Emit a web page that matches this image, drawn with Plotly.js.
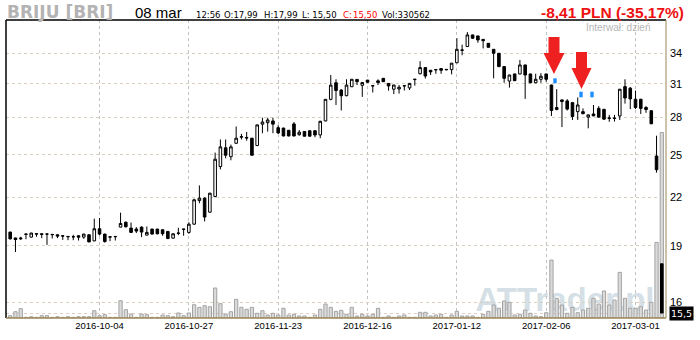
<!DOCTYPE html>
<html>
<head>
<meta charset="utf-8">
<script src="https://cdn.plot.ly/plotly-3.0.1.min.js"></script>
<style>
  html, body { margin: 0; padding: 0; background: #ffffff; }
  #chart { width: 700px; height: 340px; }
</style>
</head>
<body>
<div id="chart"></div>
<script>
// ---------- data ----------
const ticker = 'BRIJU [BRI]';
const sessionDay = '08 mar';
const sessionTime = '12:56';
const intervalLabel = 'Interwał: dzień';
const watermark = 'ATTrader.pl';
const startDate = '2016-09-09';
const endDate = '2017-03-08';
const holidays = ['2016-11-01', '2016-11-11', '2016-12-26', '2017-01-06'];
const tickDates = ['2016-10-04', '2016-10-27', '2016-11-23', '2016-12-16', '2017-01-12', '2017-02-06', '2017-03-01'];
const priceTicks = [16, 19, 22, 25, 28, 31, 34];

const openP = [19.80,19.45,19.40,19.66,19.50,19.68,19.70,19.68,19.64,19.64,
  19.56,19.52,19.52,19.58,19.50,19.64,19.28,20.00,19.68,19.50,
  19.52,20.10,20.40,20.04,19.98,20.10,19.62,19.98,19.98,19.94,
  19.84,19.44,19.72,19.96,19.78,20.28,21.78,21.94,21.03,22.05,
  24.14,25.55,24.87,25.90,26.38,26.36,26.30,25.72,27.44,27.57,
  27.71,27.15,27.12,26.94,27.46,26.58,26.84,26.90,26.90,26.56,
  27.71,29.58,31.10,30.42,29.91,30.73,31.42,30.86,31.35,30.80,
  31.28,31.52,31.04,30.50,30.52,30.80,30.62,31.40,31.96,32.56,
  32.30,32.34,32.46,32.34,32.36,33.04,34.30,34.70,35.94,35.83,
  35.46,35.04,34.41,34.00,32.66,31.26,31.94,31.94,32.82,31.94,
  31.10,31.43,31.94,30.89,28.68,29.53,29.44,29.29,28.50,28.50,
  28.03,28.30,28.78,28.70,27.92,27.96,28.13,30.74,30.60,29.59,
  29.59,28.86,28.58,24.92,17.99];
const highP = [19.82,19.47,19.52,19.70,19.76,19.70,19.72,19.72,19.66,19.66,
  19.58,19.54,19.64,19.62,19.70,19.66,20.62,20.66,19.70,19.52,
  19.54,21.00,20.44,20.38,20.10,20.14,20.14,20.00,20.00,19.96,
  19.86,19.72,20.06,19.98,20.40,21.90,22.80,22.00,22.30,25.18,
  26.20,26.20,25.80,27.25,26.65,26.80,26.32,27.40,27.98,27.98,
  27.98,27.35,27.14,26.96,27.62,26.96,26.86,26.92,26.96,27.72,
  29.60,31.84,31.43,30.50,31.43,31.45,31.45,31.14,31.37,30.83,
  31.43,31.55,31.06,30.90,30.89,30.83,31.06,31.43,33.20,32.60,
  32.32,32.36,32.48,32.42,33.02,35.58,34.90,36.25,35.96,35.85,
  35.48,35.06,34.43,34.02,32.68,31.86,31.96,33.32,32.84,31.96,
  31.96,32.02,31.96,30.92,30.50,29.55,29.60,29.30,29.75,28.78,
  28.25,29.08,28.98,28.72,28.22,28.22,30.52,31.43,30.70,30.37,
  29.62,28.98,28.60,26.50,17.99];
const lowP = [19.36,18.64,19.33,19.38,19.48,19.52,19.44,19.05,19.42,19.44,
  19.34,19.32,19.32,19.30,19.40,19.20,19.26,19.60,19.18,19.26,
  19.30,20.08,20.08,19.74,19.74,19.50,19.60,19.66,19.66,19.58,
  19.38,19.42,19.62,19.58,19.70,20.24,21.60,20.45,21.00,22.00,
  23.93,24.75,24.60,25.85,26.20,26.10,24.96,25.70,26.70,26.83,
  26.70,26.65,26.44,26.44,26.44,26.50,26.44,26.44,26.38,26.30,
  27.68,29.50,29.08,28.60,29.85,30.70,30.89,29.80,31.10,30.20,
  30.89,31.18,30.37,30.05,30.10,30.38,30.43,30.83,31.90,31.50,
  31.84,31.96,31.96,32.30,31.90,33.00,33.80,34.66,35.50,35.10,
  34.50,34.60,31.52,32.60,31.10,30.65,31.26,31.90,29.62,31.06,
  31.06,31.10,31.20,28.13,28.62,27.20,28.60,27.79,27.79,28.28,
  27.10,28.10,28.00,27.80,27.64,27.66,27.79,29.20,28.72,28.72,
  28.30,28.40,27.45,23.70,15.50];
const closeP = [19.40,19.36,19.44,19.68,19.74,19.70,19.66,19.68,19.66,19.56,
  19.58,19.54,19.52,19.50,19.68,19.22,20.00,19.68,19.24,19.52,
  19.54,20.32,20.12,19.78,19.86,19.80,19.78,19.68,19.70,19.70,
  19.42,19.70,19.74,19.98,20.28,21.83,21.94,20.72,22.27,24.68,
  25.62,24.98,25.62,26.30,26.42,26.32,24.98,27.38,27.62,27.79,
  27.44,26.72,26.48,26.48,26.48,26.78,26.46,26.46,26.56,27.68,
  29.58,30.88,30.38,29.90,30.88,31.43,31.20,31.12,31.15,30.83,
  31.12,31.20,30.80,30.89,30.68,30.83,31.04,31.43,32.56,31.74,
  32.14,32.36,32.30,32.38,33.00,34.41,34.34,35.94,35.58,35.40,
  35.32,34.62,34.00,32.66,31.52,31.84,31.30,32.82,31.84,31.10,
  31.43,31.72,31.43,28.60,28.86,29.38,28.72,28.09,29.08,28.32,
  28.22,28.14,28.03,27.86,27.96,27.92,30.50,29.70,29.62,28.86,
  28.78,28.68,27.47,23.91,15.50];
const volume = [4100,11200,16600,1200,2300,1200,4100,4100,1200,2300,
  1200,2300,1200,2300,2300,2300,13000,4100,5900,1200,
  1200,30800,14800,7100,1200,7100,5900,1200,1200,5300,
  4100,2300,8900,4100,8900,23700,19000,21900,20100,53400,
  25500,7100,11200,33300,19000,15500,19000,8400,13000,5300,
  8400,5300,17300,5300,6600,3600,3600,1200,5300,15500,
  24900,19000,11900,13700,6600,19000,3600,6600,3600,6600,
  17300,1200,3600,1200,3600,5300,1200,1200,10100,10100,
  3600,5300,6600,1200,5300,11900,3600,3600,3600,1200,
  6600,11900,23100,17300,30300,27900,5300,6600,14200,8400,
  3600,2300,9400,103200,35100,23100,8400,19000,9400,14200,
  17300,35100,24900,48100,23100,32000,81300,35100,17300,17300,
  20100,14200,27900,134700,330562];

// trading-day calendar (categories)
function tradingDays(start, end, hol) {
  const out = [];
  const d = new Date(start + 'T00:00:00Z');
  const e = new Date(end + 'T00:00:00Z');
  while (d <= e) {
    const wd = d.getUTCDay();
    const s = d.toISOString().slice(0, 10);
    if (wd !== 0 && wd !== 6 && !hol.includes(s)) out.push(s);
    d.setUTCDate(d.getUTCDate() + 1);
  }
  return out;
}
const dates = tradingDays(startDate, endDate, holidays);

// ---------- derived header texts ----------
const n = closeP.length;
const fmt = v => v.toFixed(2).replace('.', ',');
const lastC = closeP[n - 1], prevC = closeP[n - 2];
const chg = lastC - prevC;
const chgPct = chg / prevC * 100;
const chgText = (chg < 0 ? '-' : '+') + fmt(Math.abs(chg)) + ' PLN (' + (chg < 0 ? '-' : '+') + fmt(Math.abs(chgPct)) + '%)';

// plot frame in pixels (for decorations only)
const W = 700, H = 340, mL = 6, mR = 34, mT = 20, mB = 22;
const pw = W - mL - mR, ph = H - mT - mB;
const PX = px => (px - mL) / pw;
const PY = py => (H - mB - py) / ph;

function arrowPath(cx, top, tip, shaftW, headW, headH) {
  const s = shaftW / 2, h = headW / 2, hy = tip - headH;
  const pts = [[cx - s, top], [cx + s, top], [cx + s, hy], [cx + h, hy], [cx, tip], [cx - h, hy], [cx - s, hy]];
  return 'M' + pts.map(p => PX(p[0]).toFixed(5) + ',' + PY(p[1]).toFixed(5)).join('L') + 'Z';
}

// volume on the base axis (drawn first), prices on the overlaying axis (drawn on top)
const volTrace = {
  type: 'bar', x: dates, y: volume, xaxis: 'x', yaxis: 'y',
  marker: { color: '#dadada', line: { color: '#a3a3a3', width: 1 } },
  width: 0.62, hoverinfo: 'skip', showlegend: false
};
const candleTrace = {
  type: 'candlestick', x: dates, open: openP, high: highP, low: lowP, close: closeP,
  xaxis: 'x', yaxis: 'y2',
  increasing: { line: { color: '#000000', width: 1 }, fillcolor: '#ffffff' },
  decreasing: { line: { color: '#000000', width: 1 }, fillcolor: '#000000' },
  whiskerwidth: 0, hoverinfo: 'skip', showlegend: false
};

const yMin = 15.27, yMax = 37.6;
const smallFont = { family: 'DejaVu Sans', size: 8.5, color: '#000000' };
const redSmall = { family: 'DejaVu Sans', size: 8.5, color: '#ff0000' };
const hdrY = PY(15);

const layout = {
  width: W, height: H,
  margin: { l: mL, r: mR, t: mT, b: mB, pad: 0 },
  paper_bgcolor: '#ffffff', plot_bgcolor: '#ffffff',
  showlegend: false,
  xaxis: {
    type: 'category', range: [-0.8, n - 0.2],
    tickvals: tickDates, ticktext: tickDates,
    showgrid: true, gridcolor: '#c2c2c2', griddash: 'dot', gridwidth: 1,
    showline: false, zeroline: false, ticks: '',
    tickfont: { family: 'Liberation Sans', size: 9.5, color: '#000000' },
    rangeslider: { visible: false }, fixedrange: true
  },
  yaxis: {
    range: [0, 531000], visible: false, showgrid: false, zeroline: false, fixedrange: true
  },
  yaxis2: {
    overlaying: 'y', type: 'log', side: 'right',
    range: [Math.log10(yMin), Math.log10(yMax)],
    tickvals: priceTicks.concat([lastC]), ticktext: priceTicks.map(String).concat(['']),
    showgrid: true, gridcolor: '#dbd0bd', griddash: 'dot', gridwidth: 1,
    showline: false, zeroline: false, ticks: '', ticklabelstandoff: 3,
    tickfont: { family: 'Liberation Sans', size: 11, color: '#000000' },
    fixedrange: true
  },
  shapes: [
    { type: 'rect', xref: 'paper', yref: 'paper', x0: PX(465), x1: PX(665), y0: PY(316), y1: PY(277),
      line: { width: 0 }, fillcolor: 'rgba(0,0,0,0)', layer: 'below',
      label: { text: '<b>' + watermark + '</b>', font: { family: 'Liberation Sans', size: 33, color: '#d5dfe6' }, textposition: 'middle center' } },
    { type: 'line', xref: 'paper', yref: 'paper', x0: 0, x1: 1, y0: 1, y1: 1, line: { color: '#000000', width: 1.5 } },
    { type: 'line', xref: 'paper', yref: 'paper', x0: 0, x1: 0, y0: 0, y1: 1, line: { color: '#000000', width: 1.5 } },
    { type: 'line', xref: 'paper', yref: 'paper', x0: 1, x1: 1, y0: 0, y1: 1, line: { color: '#9a8655', width: 1 } },
    { type: 'line', xref: 'paper', yref: 'paper', x0: 0, x1: 1, y0: 0, y1: 0, line: { color: '#9a8655', width: 1.5 } },
    { type: 'path', xref: 'paper', yref: 'paper', path: arrowPath(554, 37, 74, 11, 21, 21), fillcolor: '#ee2020', line: { width: 0 } },
    { type: 'path', xref: 'paper', yref: 'paper', path: arrowPath(581.5, 52, 89, 11, 20, 21), fillcolor: '#ee2020', line: { width: 0 } },
    { type: 'rect', xref: 'paper', yref: 'paper', x0: PX(553.3), x1: PX(556.7), y0: PY(83.3), y1: PY(78.3), fillcolor: '#1e8fff', line: { width: 0 } },
    { type: 'rect', xref: 'paper', yref: 'paper', x0: PX(579.3), x1: PX(582.7), y0: PY(97.3), y1: PY(91.7), fillcolor: '#1e8fff', line: { width: 0 } },
    { type: 'rect', xref: 'paper', yref: 'paper', x0: PX(590.3), x1: PX(593.7), y0: PY(97.3), y1: PY(91.7), fillcolor: '#1e8fff', line: { width: 0 } }
  ],
  annotations: [
    { xref: 'paper', yref: 'paper', x: PX(5), y: PY(11.5), xanchor: 'left', yanchor: 'middle', showarrow: false,
      text: '<b>' + ticker + '</b>', font: { family: 'DejaVu Sans', size: 17, color: '#b3b3b3' } },
    { xref: 'paper', yref: 'paper', x: PX(133), y: PY(12), xanchor: 'left', yanchor: 'middle', showarrow: false,
      text: sessionDay, font: { family: 'Liberation Sans', size: 15, color: '#000000' } },
    { xref: 'paper', yref: 'paper', x: PX(194), y: hdrY, xanchor: 'left', yanchor: 'middle', showarrow: false,
      text: sessionTime, font: smallFont },
    { xref: 'paper', yref: 'paper', x: PX(222), y: hdrY, xanchor: 'left', yanchor: 'middle', showarrow: false,
      text: 'O:' + fmt(openP[n - 1]), font: smallFont },
    { xref: 'paper', yref: 'paper', x: PX(262), y: hdrY, xanchor: 'left', yanchor: 'middle', showarrow: false,
      text: 'H:' + fmt(highP[n - 1]), font: smallFont },
    { xref: 'paper', yref: 'paper', x: PX(300), y: hdrY, xanchor: 'left', yanchor: 'middle', showarrow: false,
      text: 'L: ' + fmt(lowP[n - 1]), font: smallFont },
    { xref: 'paper', yref: 'paper', x: PX(341), y: hdrY, xanchor: 'left', yanchor: 'middle', showarrow: false,
      text: 'C:', font: redSmall },
    { xref: 'paper', yref: 'paper', x: PX(351), y: hdrY, xanchor: 'left', yanchor: 'middle', showarrow: false,
      text: fmt(lastC), font: redSmall },
    { xref: 'paper', yref: 'paper', x: PX(380), y: hdrY, xanchor: 'left', yanchor: 'middle', showarrow: false,
      text: 'Vol:' + volume[n - 1], font: smallFont },
    { xref: 'paper', yref: 'paper', x: PX(686), y: PY(12.5), xanchor: 'right', yanchor: 'middle', showarrow: false,
      text: '<b>' + chgText + '</b>', font: { family: 'Liberation Sans', size: 15.5, color: '#ee1111' } },
    { xref: 'paper', yref: 'paper', x: PX(652), y: PY(27), xanchor: 'right', yanchor: 'middle', showarrow: false,
      text: intervalLabel, font: { family: 'Liberation Sans', size: 10, color: '#b5b5b5' } },
    { xref: 'paper', yref: 'y2', x: PX(669), y: Math.log10(lastC), xanchor: 'left', yanchor: 'middle', showarrow: false,
      text: String(lastC).replace('.', ','), bgcolor: '#000000', borderpad: 1,
      font: { family: 'DejaVu Sans', size: 9.5, color: '#ffffff' } }
  ]
};

Plotly.newPlot('chart', [volTrace, candleTrace], layout, { staticPlot: true, displayModeBar: false });
</script>
</body>
</html>
